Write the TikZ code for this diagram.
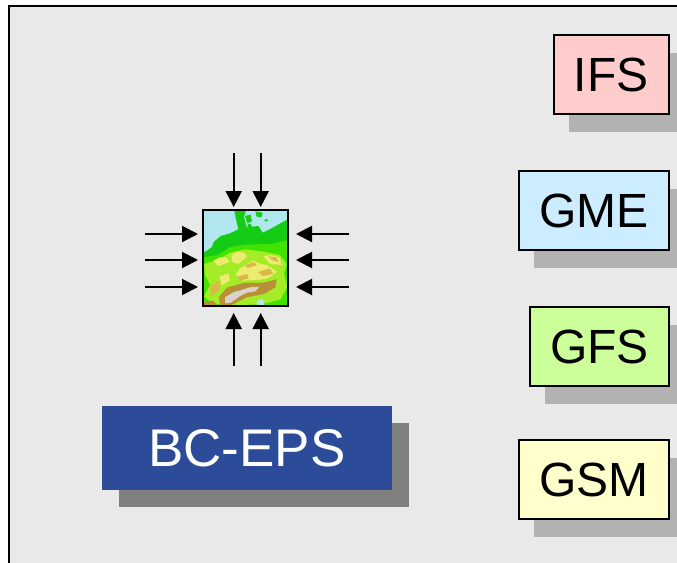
\documentclass[tikz,border=0pt]{standalone}
\usepackage{fontspec}
\setmainfont{Liberation Sans}
\usetikzlibrary{arrows.meta,shadows}
\definecolor{panelgray}{HTML}{E9E9E9}
\definecolor{shadegray}{HTML}{B2B2B2}
\definecolor{bcblue}{HTML}{2C4C9A}
\definecolor{ifsred}{HTML}{FFCCCC}
\definecolor{gmeblue}{HTML}{CCECFF}
\definecolor{gfsgreen}{HTML}{CCFF99}
\definecolor{gsmyellow}{HTML}{FFFFCC}
\definecolor{seablue}{HTML}{B0E6EE}
\definecolor{lowgreen}{HTML}{14CC14}
\definecolor{midgreen}{HTML}{40E400}
\definecolor{limegreen}{HTML}{A4EC28}
\definecolor{hillyellow}{HTML}{ECEC70}
\definecolor{hilltan}{HTML}{DCB848}
\definecolor{alpbrown}{HTML}{B89038}
\definecolor{alpgray}{HTML}{D8D4CC}
\tikzset{
	modelbox/.style={draw=black,line width=2pt,minimum height=79pt,inner sep=0pt,font=\fontsize{48}{48}\selectfont,
		general shadow={shadow xshift=15pt,shadow yshift=-17.5pt,fill=shadegray}},
	bcbox/.style={fill=bcblue,text=white,minimum width=290pt,minimum height=84pt,inner sep=0pt,font=\fontsize{53}{53}\selectfont,
		general shadow={shadow xshift=16.5pt,shadow yshift=-16.5pt,fill=gray}},
	inarrow/.style={line width=2pt,-{Triangle[length=16pt,width=16pt]}},
}
\begin{document}
\begin{tikzpicture}[x=1pt,y=-1pt]
	\useasboundingbox (0,0) rectangle (677,562);
	\draw[fill=panelgray,line width=2pt] (9,6) rectangle (700,590);
	% map
	\begin{scope}[shift={(130,140)},scale=1/3]
		\clip (218,208) rectangle (475,497);
		\fill[seablue] (218,208) rectangle (475,497);
		\fill[lowgreen] (218,340)--(245,322)--(252,305)--(272,288)--(300,280)--(325,268)--(318,238)--(312,208)--(348,208)--(342,232)--(350,262)--(385,258)--(398,278)--(430,262)--(462,244)--(475,238)--(475,497)--(218,497)--cycle;
		\fill[lowgreen] (345,228)--(362,224)--(366,244)--(352,250)--cycle;
		\fill[lowgreen] (376,214)--(398,218)--(394,232)--(380,230)--cycle;
		\fill[lowgreen] (352,254)--(362,250)--(366,260)--(354,264)--cycle;
		\fill[lowgreen] (404,238)--(414,238)--(412,244)--(404,244)--cycle;
		\fill[midgreen] (218,352)--(262,345)--(300,322)--(345,314)--(420,312)--(475,300)--(475,497)--(218,497)--cycle;
		\fill[limegreen] (222,372)--(262,360)--(300,338)--(345,328)--(400,335)--(450,345)--(470,372)--(462,400)--(472,440)--(452,478)--(400,492)--(300,497)--(250,490)--(222,470)--(240,435)--(225,405)--cycle;
		\fill[hillyellow] (305,345)--(322,335)--(342,338)--(352,350)--(336,362)--(325,372)--(305,365)--cycle;
		\fill[hillyellow] (250,362)--(270,352)--(290,352)--(298,366)--(265,378)--cycle;
		\fill[hillyellow] (330,385)--(352,372)--(370,362)--(392,372)--(410,375)--(440,395)--(420,412)--(400,418)--(340,422)--(318,405)--cycle;
		\fill[hillyellow] (400,348)--(422,345)--(448,352)--(456,375)--(420,372)--cycle;
		\fill[hillyellow] (268,410)--(295,400)--(300,422)--(274,436)--cycle;
		\fill[hilltan] (415,349)--(440,352)--(446,366)--(425,360)--cycle;
		\fill[hilltan] (384,396)--(420,385)--(430,402)--(398,408)--cycle;
		\fill[hilltan] (345,375)--(372,366)--(380,376)--(352,384)--cycle;
		\fill[hilltan] (240,438)--(272,422)--(268,450)--(244,468)--cycle;
		\fill[hilltan] (322,410)--(352,402)--(356,416)--(328,422)--cycle;
		\fill[alpbrown] (266,472)--(292,442)--(345,428)--(400,428)--(440,418)--(436,442)--(402,462)--(350,472)--(305,495)--(272,497)--cycle;
		\fill[alpgray] (285,472)--(312,456)--(335,450)--(360,442)--(388,440)--(376,454)--(350,458)--(330,468)--(302,488)--(285,490)--cycle;
		\fill[alpbrown] (218,486)--(250,482)--(262,497)--(218,497)--cycle;
		\fill[seablue] (382,482)--(398,476)--(404,497)--(380,497)--cycle;
	\end{scope}
	\node[draw=black,line width=2pt,outer sep=0pt,minimum width=85pt,minimum height=96pt,inner sep=0pt] (map) at (245.5,257.5) {};
	% boundary data arrows
	\coordinate (top1) at (233.7,153);
	\coordinate (top2) at (260.7,153);
	\coordinate (bot1) at (233.7,366);
	\coordinate (bot2) at (260.7,366);
	\coordinate (lft1) at (145,234);
	\coordinate (lft2) at (145,260);
	\coordinate (lft3) at (145,287);
	\coordinate (rgt1) at (349,234);
	\coordinate (rgt2) at (349,260);
	\coordinate (rgt3) at (349,287);
	\draw[inarrow,shorten >=2.5pt] (top1)--(top1 |- map.north);
	\draw[inarrow,shorten >=2.5pt] (top2)--(top2 |- map.north);
	\draw[inarrow,shorten >=7.5pt] (bot1)--(bot1 |- map.south);
	\draw[inarrow,shorten >=7.5pt] (bot2)--(bot2 |- map.south);
	\draw[inarrow,shorten >=5pt] (lft1)--(lft1 -| map.west);
	\draw[inarrow,shorten >=5pt] (lft2)--(lft2 -| map.west);
	\draw[inarrow,shorten >=5pt] (lft3)--(lft3 -| map.west);
	\draw[inarrow,shorten >=8pt] (rgt1)--(rgt1 -| map.east);
	\draw[inarrow,shorten >=8pt] (rgt2)--(rgt2 -| map.east);
	\draw[inarrow,shorten >=8pt] (rgt3)--(rgt3 -| map.east);
	% boxes
	\node[bcbox] (BC) at (247,448) {BC-EPS};
	\node[modelbox,fill=ifsred,minimum width=115pt] (IFS) at (611,74.5) {IFS};
	\node[modelbox,fill=gmeblue,minimum width=150pt] (GME) at (594,210.5) {GME};
	\node[modelbox,fill=gfsgreen,minimum width=139pt] (GFS) at (599.5,346.5) {GFS};
	\node[modelbox,fill=gsmyellow,minimum width=150pt] (GSM) at (594,479.5) {GSM};
\end{tikzpicture}
\end{document}
